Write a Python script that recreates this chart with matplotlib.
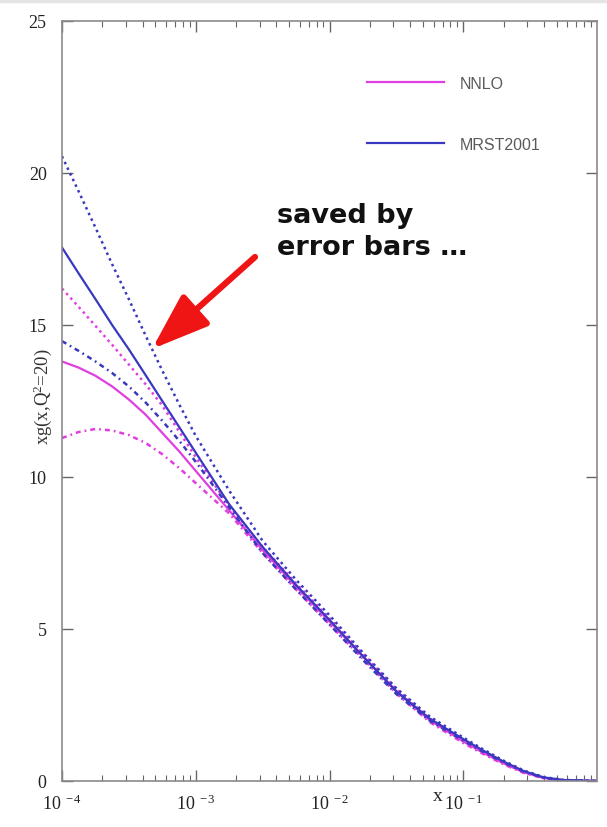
import matplotlib
matplotlib.use("Agg")
import matplotlib.pyplot as plt
from matplotlib.ticker import LogLocator, NullFormatter

# x grid
x = [1e-4, 1.33e-4, 1.78e-4, 2.37e-4, 3.16e-4, 4.22e-4, 5.62e-4, 7.5e-4, 1e-3,
     1.78e-3, 3.16e-3, 5.62e-3, 1e-2, 1.78e-2, 3.16e-2, 5.62e-2, 0.1, 0.141,
     0.2, 0.282, 0.398, 0.562, 1.0]

# MRST2001 central and error band
mrst = [17.55, 16.7, 15.85, 15.0, 14.2, 13.35, 12.5, 11.65, 10.8, 9.1, 7.7,
        6.45, 5.3, 4.1, 2.95, 2.05, 1.38, 1.0, 0.64, 0.33, 0.12, 0.03, 0.0]
mrst_hi = [20.55, 19.4, 18.2, 17.0, 15.85, 14.65, 13.5, 12.4, 11.35, 9.55, 7.9,
           6.62, 5.45, 4.22, 3.05, 2.12, 1.43, 1.04, 0.67, 0.35, 0.13, 0.035, 0.0]
mrst_lo = [14.47, 14.15, 13.8, 13.42, 12.98, 12.45, 11.85, 11.2, 10.5, 9.0, 7.5,
           6.3, 5.15, 3.98, 2.86, 1.98, 1.33, 0.96, 0.61, 0.31, 0.11, 0.025, 0.0]

# NNLO central and error band
nnlo = [13.8, 13.6, 13.33, 12.98, 12.55, 12.05, 11.45, 10.85, 10.2, 8.9, 7.6,
        6.4, 5.25, 4.1, 2.95, 2.0, 1.3, 0.93, 0.58, 0.29, 0.1, 0.02, 0.0]
nnlo_hi = [16.2, 15.6, 14.97, 14.35, 13.7, 13.05, 12.35, 11.5, 10.65, 9.05, 7.7,
           6.5, 5.35, 4.18, 3.02, 2.06, 1.35, 0.97, 0.61, 0.31, 0.11, 0.025, 0.0]
nnlo_lo = [11.28, 11.48, 11.58, 11.53, 11.38, 11.12, 10.75, 10.3, 9.8, 8.8, 7.5,
           6.3, 5.15, 4.02, 2.88, 1.94, 1.25, 0.89, 0.55, 0.27, 0.09, 0.015, 0.0]

xticks = [1e-4, 1e-3, 1e-2, 1e-1]
xticklabels = [r"$\mathregular{10^{\ -4}}$", r"$\mathregular{10^{\ -3}}$",
               r"$\mathregular{10^{\ -2}}$", r"$\mathregular{10^{\ -1}}$"]
yticks = [0, 5, 10, 15, 20, 25]

MAG = "#e03ee0"
BLUE = "#3838c0"
GRAY = "#8a8a8a"
DOT = (0, (1, 1.5))
DASHDOT = (0, (2, 1.6, 0.7, 1.6))

plt.rcParams["mathtext.fontset"] = "custom"
plt.rcParams["mathtext.rm"] = "Liberation Serif"
plt.rcParams["mathtext.it"] = "Liberation Serif:italic"

fig = plt.figure(figsize=(6.07, 8.28), dpi=100)
# thin grey strip at the very top of the slide
fig.patches.append(plt.Rectangle((0, 0.996), 1, 0.004, transform=fig.transFigure,
                                 color="#e4e4e4", zorder=0))
ax = fig.add_axes([62 / 607, 46 / 828, 535 / 607, 760 / 828])

# -------------------------------
# curves
# -------------------------------
ax.plot(x, nnlo_hi, color=MAG, lw=1.8, ls=DOT)
ax.plot(x, nnlo_lo, color=MAG, lw=1.8, ls=DASHDOT)
l1, = ax.plot(x, nnlo, color=MAG, lw=1.6, label="NNLO")
ax.plot(x, mrst_hi, color=BLUE, lw=1.8, ls=DOT)
ax.plot(x, mrst_lo, color=BLUE, lw=1.8, ls=DASHDOT)
l2, = ax.plot(x, mrst, color=BLUE, lw=1.6, label="MRST2001")

ax.set_xscale("log")
ax.set_xlim(1e-4, 1)
ax.set_ylim(0, 25)

# -------------------------------
# axes styling
# -------------------------------
for s in ax.spines.values():
    s.set_color(GRAY)
    s.set_linewidth(1.2)

ax.set_xticks(xticks)
ax.set_xticklabels(xticklabels)
ax.xaxis.set_minor_locator(LogLocator(base=10, subs=range(2, 10), numticks=20))
ax.xaxis.set_minor_formatter(NullFormatter())
ax.set_yticks(yticks)
ax.tick_params(axis="x", which="major", direction="in", top=True, length=8,
               width=1, color="#666666", labelsize=13, pad=9)
ax.tick_params(axis="x", which="minor", direction="in", top=True, length=4.5,
               width=0.8, color="#666666")
ax.tick_params(axis="y", which="major", direction="in", right=True, length=8,
               width=1, color="#666666", labelsize=13, pad=11)
for t in ax.get_xticklabels() + ax.get_yticklabels():
    t.set_fontfamily("Liberation Serif")
    t.set_color("#222222")

ax.set_ylabel(r"xg(x,Q$^{\mathregular{2}}$=20)", fontfamily="Liberation Serif",
              fontsize=13.5, color="#333333")
ax.yaxis.set_label_coords(-0.015, 0.507)
ax.set_xlabel("x", fontfamily="Liberation Serif", fontsize=14, color="#222222")
ax.xaxis.set_label_coords(0.703, -0.008)

leg = ax.legend(handles=[l1, l2], loc="upper left", bbox_to_anchor=(0.544, 0.947),
                frameon=False, handlelength=4.8, handletextpad=1.0,
                labelspacing=2.9, prop={"family": "Liberation Sans", "size": 11.5})
for t in leg.get_texts():
    t.set_color("#5a5a5a")

# -------------------------------
# annotation
# -------------------------------
ax.text(0.402, 0.762, "saved by\nerror bars \u2026", transform=ax.transAxes,
        ha="left", va="top", fontsize=19.5, fontweight="bold",
        fontfamily="DejaVu Sans", linespacing=1.32, color="#111111")
ax.annotate("", xy=(152, 828 - 350), xytext=(255, 828 - 258),
            xycoords="figure pixels", textcoords="figure pixels",
            arrowprops=dict(arrowstyle="-|>,head_length=1.4,head_width=0.5",
                            lw=4.5, color="#f01515", mutation_scale=25,
                            shrinkA=0, shrinkB=0))

fig.savefig("out.png", dpi=100)
